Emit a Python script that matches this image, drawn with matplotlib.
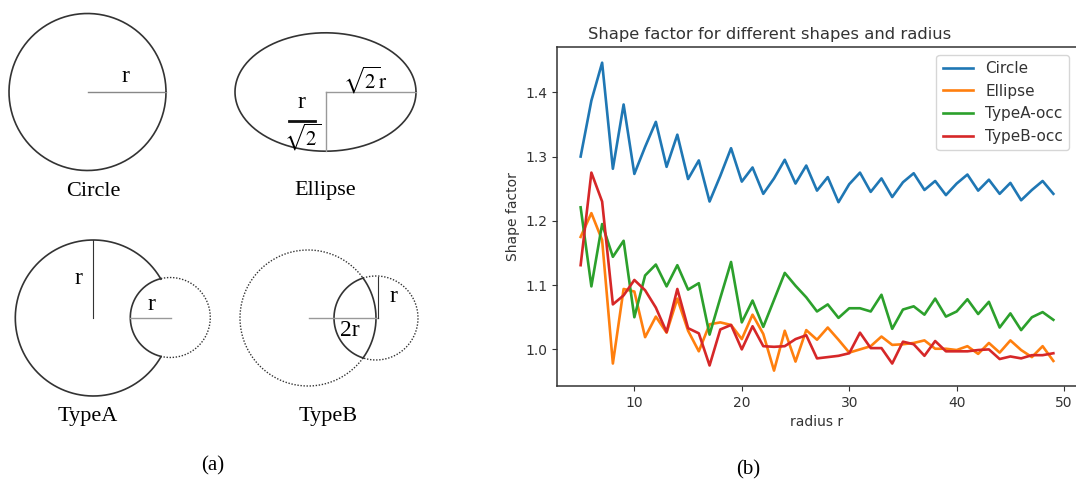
import numpy as np
import matplotlib.pyplot as plt

# radius values on the x axis
radius = list(range(5, 50))

circle = [1.300, 1.387, 1.446, 1.281, 1.381, 1.273, 1.315, 1.354, 1.284, 1.334,
          1.265, 1.294, 1.230, 1.270, 1.313, 1.261, 1.283, 1.242, 1.266, 1.295,
          1.258, 1.286, 1.247, 1.268, 1.229, 1.257, 1.275, 1.245, 1.266, 1.237,
          1.260, 1.274, 1.248, 1.262, 1.240, 1.258, 1.272, 1.247, 1.264, 1.242,
          1.259, 1.232, 1.248, 1.262, 1.242]
ellipse = [1.175, 1.212, 1.170, 0.978, 1.094, 1.090, 1.019, 1.051, 1.026, 1.079,
           1.029, 0.997, 1.039, 1.042, 1.038, 1.016, 1.054, 1.024, 0.967, 1.029,
           0.981, 1.030, 1.015, 1.034, 1.015, 0.995, 1.000, 1.005, 1.020, 1.007,
           1.008, 1.010, 1.014, 1.001, 1.001, 0.999, 1.005, 0.993, 1.010, 0.995,
           1.014, 0.999, 0.988, 1.005, 0.982]
type_a = [1.221, 1.098, 1.195, 1.144, 1.169, 1.050, 1.115, 1.132, 1.098, 1.131,
          1.093, 1.103, 1.023, 1.080, 1.136, 1.042, 1.076, 1.035, 1.077, 1.119,
          1.099, 1.081, 1.059, 1.070, 1.049, 1.064, 1.064, 1.059, 1.085, 1.032,
          1.062, 1.067, 1.054, 1.079, 1.051, 1.059, 1.078, 1.055, 1.074, 1.034,
          1.056, 1.030, 1.050, 1.058, 1.046]
type_b = [1.131, 1.275, 1.230, 1.070, 1.084, 1.108, 1.092, 1.065, 1.027, 1.094,
          1.033, 1.025, 0.975, 1.031, 1.038, 1.000, 1.036, 1.005, 1.004, 1.005,
          1.016, 1.022, 0.986, 0.988, 0.990, 0.994, 1.026, 1.002, 1.002, 0.978,
          1.012, 1.008, 0.990, 1.013, 0.997, 0.997, 0.997, 0.999, 1.000, 0.985,
          0.989, 0.986, 0.991, 0.991, 0.994]
series_names = ['Circle', 'Ellipse', 'TypeA-occ', 'TypeB-occ']

W, H = 1076, 484
fig = plt.figure(figsize=(W / 100, H / 100), dpi=100)
plt.rcParams['mathtext.fontset'] = 'stix'

# ---- (a) shape sketches, drawn in pixel coordinates ----
sk = fig.add_axes([0, 0, 1, 1])
sk.set_xlim(0, W)
sk.set_ylim(H, 0)
sk.axis('off')

ink = '#333333'
dots = (0, (1, 1.2))
serif = ['Liberation Serif', 'DejaVu Serif']


def arc(cx, cy, rad, t1, t2, **kw):
    t = np.radians(np.linspace(t1, t2, 200))
    sk.plot(cx + rad * np.cos(t), cy + rad * np.sin(t), **kw)


# circle
arc(87.5, 92, 78.5, 0, 360, color=ink, lw=1.2)
sk.plot([88, 166], [92, 92], color='#888888', lw=1)
sk.text(125, 77, 'r', fontsize=17, family=serif, ha='center', va='center')
sk.text(93, 191, 'Circle', fontsize=16, family=serif, ha='center', va='center')

# ellipse
t = np.linspace(0, 2 * np.pi, 300)
sk.plot(325.5 + 90.5 * np.cos(t), 92 + 59.2 * np.sin(t), color=ink, lw=1.2)
sk.plot([326, 416], [92, 92], color='#999999', lw=1)
sk.plot([326, 326], [92, 151], color='#999999', lw=1)
sk.text(365, 80, r'$\sqrt{2}\mathrm{r}$', fontsize=15, ha='center', va='center')
sk.text(301.5, 103, 'r', fontsize=17, family=serif, ha='center', va='center')
sk.plot([288.5, 315], [120.5, 120.5], color='#111111', lw=2)
sk.text(302.5, 137, r'$\sqrt{2}$', fontsize=15, ha='center', va='center')
sk.text(325, 191, 'Ellipse', fontsize=16, family=serif, ha='center', va='center')

# TypeA: big circle with a small one cut out
arc(93.3, 318, 78, 29.9, 330.1, color=ink, lw=1.2)
arc(170.3, 317.5, 40, 103.6, 256.4, color=ink, lw=1.2)
arc(170.3, 317.5, 40, -103.6, 103.6, color=ink, lw=1, ls=dots)
sk.plot([93.3, 93.3], [240, 318], color=ink, lw=0.8)
sk.plot([130, 171], [317.5, 317.5], color='#999999', lw=1)
sk.text(78, 278, 'r', fontsize=17, family=serif, ha='center', va='center')
sk.text(151.5, 304, 'r', fontsize=17, family=serif, ha='center', va='center')
sk.text(88, 416, 'TypeA', fontsize=16, family=serif, ha='center', va='center')

# TypeB: overlap lens of two circles
arc(308, 318, 68, 36, 324, color=ink, lw=1, ls=dots)
arc(308, 318, 68, -36, 36, color=ink, lw=1.2)
arc(376, 318, 42, 108, 252, color=ink, lw=1.2)
arc(376, 318, 42, -108, 108, color=ink, lw=1, ls=dots)
sk.plot([309, 377.5], [318, 318], color='#999999', lw=1)
sk.plot([377.5, 377.5], [277, 318], color=ink, lw=0.8)
sk.text(393, 297, 'r', fontsize=17, family=serif, ha='center', va='center')
sk.text(350, 330, '2r', fontsize=17, family=serif, ha='center', va='center')
sk.text(328, 416, 'TypeB', fontsize=16, family=serif, ha='center', va='center')

sk.text(213, 466, '(a)', fontsize=15, family=serif, ha='center', va='center')
sk.text(748, 470, '(b)', fontsize=15, family=serif, ha='center', va='center')

# ---- (b) shape factor chart ----
ax = fig.add_axes([557 / W, 1 - 386 / H, 520 / W, 338.7 / H])
grey = '#333333'
ax.plot(radius, circle, lw=1.9, label=series_names[0])
ax.plot(radius, ellipse, lw=1.9, label=series_names[1])
ax.plot(radius, type_a, lw=1.9, label=series_names[2])
ax.plot(radius, type_b, lw=1.9, label=series_names[3])
ax.set_xticks([10, 20, 30, 40, 50])
ax.set_yticks([1.0, 1.1, 1.2, 1.3, 1.4])
ax.tick_params(colors=grey, labelsize=10)
for s in ax.spines.values():
    s.set_color(grey)
    s.set_linewidth(1.1)
ttl = ax.set_title('Shape factor for different shapes and radius', fontsize=11.8, color=grey)
ttl.set_x((769.5 - 557) / 520)
ax.set_xlabel('radius r', fontsize=10, color=grey)
ax.set_ylabel('Shape factor', fontsize=10, color=grey)
leg = ax.legend(loc='upper right', fontsize=11)
for txt in leg.get_texts():
    txt.set_color(grey)

fig.savefig('out.png', dpi=100)
